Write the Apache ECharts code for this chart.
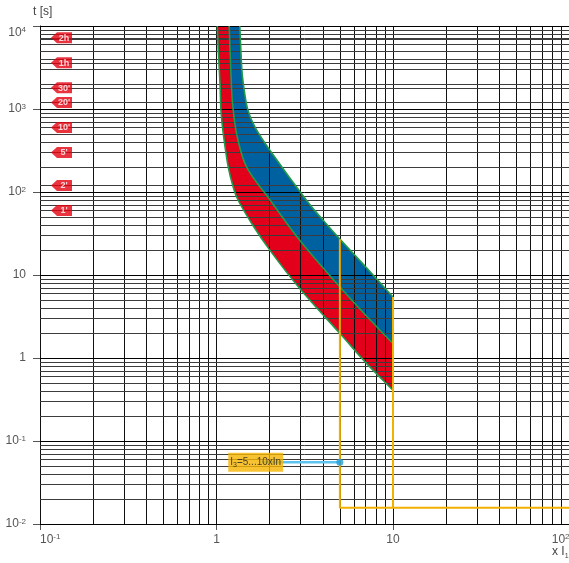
<!DOCTYPE html>
<html><head><meta charset="utf-8">
<script src="https://cdn.jsdelivr.net/npm/echarts@6/dist/echarts.min.js"></script>
<style>html,body{margin:0;padding:0;background:#fff}#c{width:569px;height:563px}</style>
</head><body><div id="c"></div><script>
// ---- data ----
const lowerX  = [1.01, 1.024, 1.047, 1.060, 1.093, 1.166, 1.245, 1.329, 1.610, 2.01, 2.97, 5.01, 7.10, 10];
const lowerT  = [10000, 5040, 2004, 957, 501, 199, 114, 79, 39.5, 19.8, 6.84, 1.97, 0.856, 0.409];
const middleX = [1.18, 1.204, 1.229, 1.301, 1.483, 2.023, 2.97, 5.01, 7.10, 10];
const middleT = [10000, 3175, 1262, 501, 199, 79, 26.1, 7.15, 3.18, 1.49];
const upperX  = [1.355, 1.389, 1.419, 1.50, 1.652, 2.01, 3.24, 4.03, 5.01, 7.10, 10];
const upperT  = [10000, 3175, 2004, 1000, 603, 316, 79, 45.4, 27, 12.1, 5.42];

const tagTimes  = [7200, 3600, 1800, 1200, 600, 300, 120, 60];
const tagLabels = ['2h', '1h', "30'", "20'", "10'", "5'", "2'", "1'"];

const i3MinX = 5, i3MaxX = 10, i3TopMin = 27, i3TopMax = 5.42, instT = 0.0157;
const annoT = 0.0556;
const annoText = '{a|I}{b|3}{a|=5...10xIn}';

const xTickText = ['10{s|-1}', '1', '10', '10{s|2}'];      // 0.1 .. 100
const yTickText = ['10{s|-2}', '10{s|-1}', '1', '10', '10{s|2}', '10{s|3}', '10{s|4}']; // 0.01 .. 10000

// ---- helpers ----
const zip = (xs, ys) => xs.map((x, i) => [x, ys[i]]);
const curves = [zip(lowerX, lowerT), zip(middleX, middleT), zip(upperX, upperT)];
const xGrid = [], yGridMajor = [], yGridMinor = [];
for (let e = -1; e <= 1; e++) for (let k = 1; k <= 9; k++) xGrid.push(k * Math.pow(10, e));
xGrid.push(100);
for (let e = -2; e <= 3; e++) { yGridMajor.push(Math.pow(10, e)); for (let k = 2; k <= 9; k++) yGridMinor.push(k * Math.pow(10, e)); }
yGridMajor.push(10000);
tagTimes.forEach(t => { if (yGridMinor.indexOf(t) < 0) yGridMinor.push(t); });

// smooth (Catmull-Rom) path through pixel points
function splinePath(pts, start) {
  let d = start ? 'M' + pts[0][0] + ',' + pts[0][1] : 'L' + pts[0][0] + ',' + pts[0][1];
  for (let i = 0; i < pts.length - 1; i++) {
    const p0 = pts[i - 1] || pts[i], p1 = pts[i], p2 = pts[i + 1], p3 = pts[i + 2] || pts[i + 1];
    const c1 = [p1[0] + (p2[0] - p0[0]) / 6, p1[1] + (p2[1] - p0[1]) / 6];
    const c2 = [p2[0] - (p3[0] - p1[0]) / 6, p2[1] - (p3[1] - p1[1]) / 6];
    d += 'C' + c1[0] + ',' + c1[1] + ' ' + c2[0] + ',' + c2[1] + ' ' + p2[0] + ',' + p2[1];
  }
  return d;
}

const RED = '#e2001a', BLUE = '#0061a0', GREEN = '#1f9a4a', YEL = '#f2b000';
const FONT = 'Liberation Sans';
const supRich = { s: { fontSize: 8, verticalAlign: 'top', color: '#555', fontFamily: FONT, lineHeight: 13 } };
const gridLine = (v, key, color) => ({ [key]: v, lineStyle: { color: color } });

const chart = echarts.init(document.getElementById('c'), null, { renderer: 'canvas' });
chart.setOption({
  animation: false,
  textStyle: { fontFamily: FONT },
  grid: { left: 40, top: 26, width: 529.5, height: 498, containLabel: false, outerBoundsMode: 'none' },
  xAxis: {
    type: 'log', logBase: 10, min: 0.1, max: 100,
    axisLine: { show: true, lineStyle: { color: '#000', width: 1 } },
    axisTick: { show: true, length: 6, lineStyle: { color: '#555' } },
    splitLine: { show: false },
    axisLabel: {
      margin: 9, color: '#555', fontSize: 12, fontFamily: FONT, lineHeight: 13,
      alignMinLabel: 'left', alignMaxLabel: 'right',
      formatter: v => xTickText[Math.round(Math.log10(v)) + 1],
      rich: supRich
    }
  },
  yAxis: {
    type: 'log', logBase: 10, min: 0.01, max: 10000,
    axisLine: { show: true, lineStyle: { color: '#000', width: 1 } },
    axisTick: { show: true, length: 7, lineStyle: { color: '#555' } },
    splitLine: { show: false },
    axisLabel: {
      margin: 14, color: '#555', fontSize: 12, fontFamily: FONT, lineHeight: 13,
      verticalAlignMaxLabel: 'top',
      formatter: v => yTickText[Math.round(Math.log10(v)) + 2],
      rich: supRich
    }
  },
  graphic: [
    { type: 'text', left: 33, top: 6, style: { text: 't [s]', fill: '#444', fontSize: 12, fontFamily: FONT } },
    { type: 'text', left: 552, top: 546, style: { text: 'x I{s|1}', fill: '#444', fontSize: 12, fontFamily: FONT,
      rich: { s: { fontSize: 7, verticalAlign: 'bottom', fill: '#444', lineHeight: 16 } } } }
  ],
  series: [
    { // tripping bands (fills)
      type: 'custom', name: 'bands', coordinateSystem: 'cartesian2d', z: 1, silent: true, clip: true,
      data: [[1, 1], [2, 2]],
      renderItem(params, api) {
        const i = params.dataIndex;
        const a = curves[i].map(p => api.coord(p));
        const b = curves[i + 1].map(p => api.coord(p)).reverse();
        const d = splinePath(a, true) + splinePath(b, false) + 'Z';
        return { type: 'path', shape: { pathData: d }, style: { fill: i === 0 ? RED : BLUE } };
      }
    },
    { // grid
      type: 'line', name: 'grid', z: 2, data: [[1, 1]], showSymbol: false, silent: true,
      lineStyle: { opacity: 0 },
      markLine: {
        z: 2, silent: true, symbol: ['none', 'none'], label: { show: false }, animation: false,
        lineStyle: { color: '#111', width: 1, type: 'solid' },
        emphasis: { disabled: true },
        data: xGrid.map(v => gridLine(v, 'xAxis', '#111'))
          .concat(yGridMajor.map(v => gridLine(v, 'yAxis', '#000')))
          .concat(yGridMinor.map(v => gridLine(v, 'yAxis', '#3c3c3c')))
      }
    },
    { // curve outlines
      type: 'custom', name: 'outlines', coordinateSystem: 'cartesian2d', z: 3, silent: true, clip: true,
      data: [[1, 1], [2, 2], [3, 3]],
      renderItem(params, api) {
        const a = curves[params.dataIndex].map(p => api.coord(p));
        return { type: 'path', shape: { pathData: splinePath(a, true) }, style: { fill: null, stroke: GREEN, lineWidth: 1.6 } };
      }
    },
    { type: 'line', name: 'inst1', z: 4, data: [[i3MinX, i3TopMin], [i3MinX, instT], [100, instT]], showSymbol: false, silent: true, lineStyle: { color: YEL, width: 2 } },
    { type: 'line', name: 'inst2', z: 4, data: [[i3MaxX, i3TopMax], [i3MaxX, instT]], showSymbol: false, silent: true, lineStyle: { color: YEL, width: 2 } },
    { type: 'line', name: 'annoLine', z: 5, data: [[1.8, annoT], [i3MinX, annoT]], showSymbol: false, silent: true, lineStyle: { color: '#5cc3ef', width: 2.5 } },
    { type: 'scatter', name: 'annoDot', z: 6, data: [[i3MinX, annoT]], symbol: 'circle', symbolSize: 7, silent: true, itemStyle: { color: '#1f9de0' } },
    { type: 'scatter', name: 'annoBox', z: 7, data: [[1.166, annoT]], symbolSize: 0, silent: true,
      label: { show: true, position: 'right', distance: 0, backgroundColor: '#f5b400', padding: [4, 2, 3, 2],
        formatter: annoText,
        rich: { a: { fontSize: 10, color: '#222', fontFamily: FONT, lineHeight: 12 },
                b: { fontSize: 7, color: '#222', fontFamily: FONT, verticalAlign: 'bottom', lineHeight: 12 } } } },
    { type: 'scatter', name: 'tags', z: 8, silent: true,
      data: tagTimes.map((t, i) => ({ value: [0.1324, t], name: tagLabels[i] })),
      symbol: 'path://M0,5.5L6,0L21,0L21,11L6,11Z', symbolSize: [21, 11],
      itemStyle: { color: '#e3000f' },
      label: { show: true, position: 'inside', offset: [2.5, 0.5], color: '#fff', fontSize: 9, fontWeight: 'bold', fontFamily: FONT,
        formatter: p => p.name } }
  ]
});
</script></body></html>
